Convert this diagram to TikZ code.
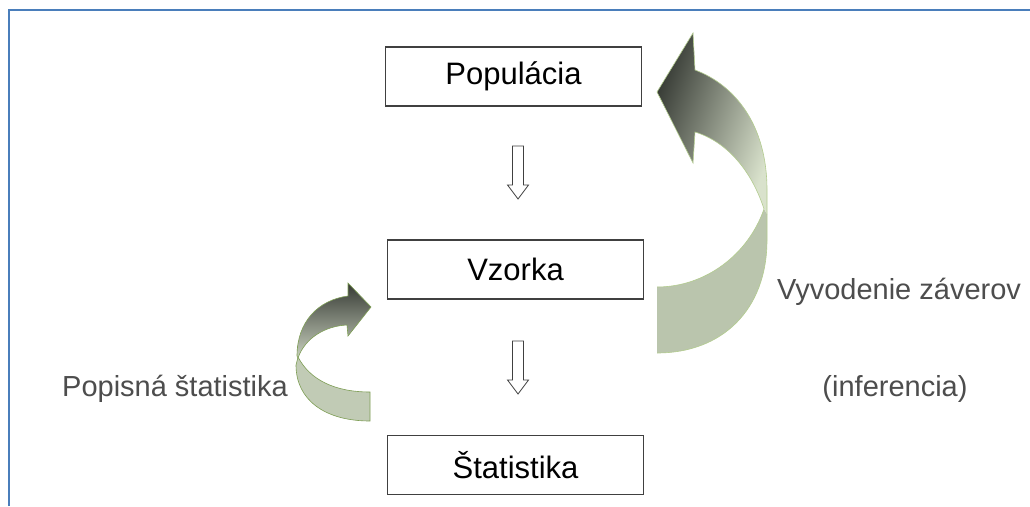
\documentclass[tikz,border=0pt]{standalone}
\usepackage{fontspec}
\setmainfont{Liberation Sans}
\begin{document}
\begin{tikzpicture}[x=1pt,y=-1pt,
  box/.style={draw=boxgray,line width=1.4pt,fill=white,minimum width=256pt,minimum height=59pt,inner sep=0pt,font=\fontsize{31}{36}\selectfont,text=black},
  lbl/.style={font=\fontsize{29}{34}\selectfont,text=lblgray,inner sep=0pt},
  blockarrow/.style={draw=black!75,line width=0.8pt,fill=white,line join=miter},
  ribbon/.style={draw=ribbonedge,line width=0.6pt}]
\definecolor{boxgray}{HTML}{404040}
\definecolor{lblgray}{HTML}{4D4D4D}
\definecolor{frameblue}{HTML}{4A7EBB}
\definecolor{ribbonedge}{HTML}{B3CC8F}
\definecolor{ribbonedgeB}{HTML}{7E9E55}
\definecolor{darkhead}{HTML}{363A34}
\definecolor{lighthead}{HTML}{D9E2CC}
\definecolor{tailfill}{HTML}{BAC5AD}
\useasboundingbox (0,0) rectangle (1030,506);
\fill[white] (0,0) rectangle (1030,506);
% frame
\draw[frameblue,line width=2pt] (8.5,506) -- (8.5,9.5) -- (1030,9.5);
% boxes
\node[box] (pop) at (513.5,76.5) {Populácia};
\node[box] (vz) at (515.5,269.5) {Vzorka};
\node[box] (st) at (515.5,465) {Štatistika};
% small down arrows
\draw[blockarrow] (512.5,146) -- (523.5,146) -- (523.5,185) -- (528.5,185) -- (518,199) -- (507.5,185) -- (512.5,185) -- cycle;
\draw[blockarrow] (512.5,341) -- (523.5,341) -- (523.5,380) -- (528.5,380) -- (518,394) -- (507.5,380) -- (512.5,380) -- cycle;
% big curved arrow (inference)
\fill[tailfill] (657,353) .. controls (722,353) and (767,310) .. (767,240) -- (767,214) -- (764,209) .. controls (748,255) and (705,287) .. (657,287) -- cycle;
\draw[ribbon] (657,353) .. controls (722,353) and (767,310) .. (767,240) -- (767,214);
\draw[ribbon] (764,209) .. controls (748,255) and (705,287) .. (657,287);
\shade[left color=darkhead,right color=lighthead,shading angle=70] (767,214) -- (767,190) .. controls (767,125) and (735,85) .. (695,70) -- (693,33) -- (657,92) -- (693,163) -- (695,132) .. controls (728,142) and (752,172) .. (764,209) -- cycle;
\draw[ribbon] (767,214) -- (767,190) .. controls (767,125) and (735,85) .. (695,70) -- (693,33) -- (657,92) -- (693,163) -- (695,132) .. controls (728,142) and (752,172) .. (764,209);
% small curved arrow (descriptive)
\fill[tailfill!90!white] (298,357) .. controls (310,380) and (335,392) .. (370,392) -- (370,421) .. controls (325,421) and (296,400) .. (296,365) -- cycle;
\draw[ribbonedgeB,line width=0.6pt] (298,357) .. controls (310,380) and (335,392) .. (370,392) -- (370,421) .. controls (325,421) and (296,400) .. (296,365) -- cycle;
\shade[top color=darkhead,bottom color=tailfill!80!white] (297,356) .. controls (297,322) and (318,300) .. (348,296) -- (348,283) -- (371,307) -- (348,336) -- (347,325) .. controls (325,326) and (305,338) .. (298,358) -- cycle;
\draw[ribbonedgeB,line width=0.6pt] (297,356) .. controls (297,322) and (318,300) .. (348,296) -- (348,283) -- (371,307) -- (348,336) -- (347,325) .. controls (325,326) and (305,338) .. (298,358) -- cycle;
% labels
\node[lbl] (ps) at (175,389) {Popisná štatistika};
\node[lbl] (vzav) at (899,292) {Vyvodenie záverov};
\node[lbl] (inf) at (895,389) {(inferencia)};
\end{tikzpicture}
\end{document}
